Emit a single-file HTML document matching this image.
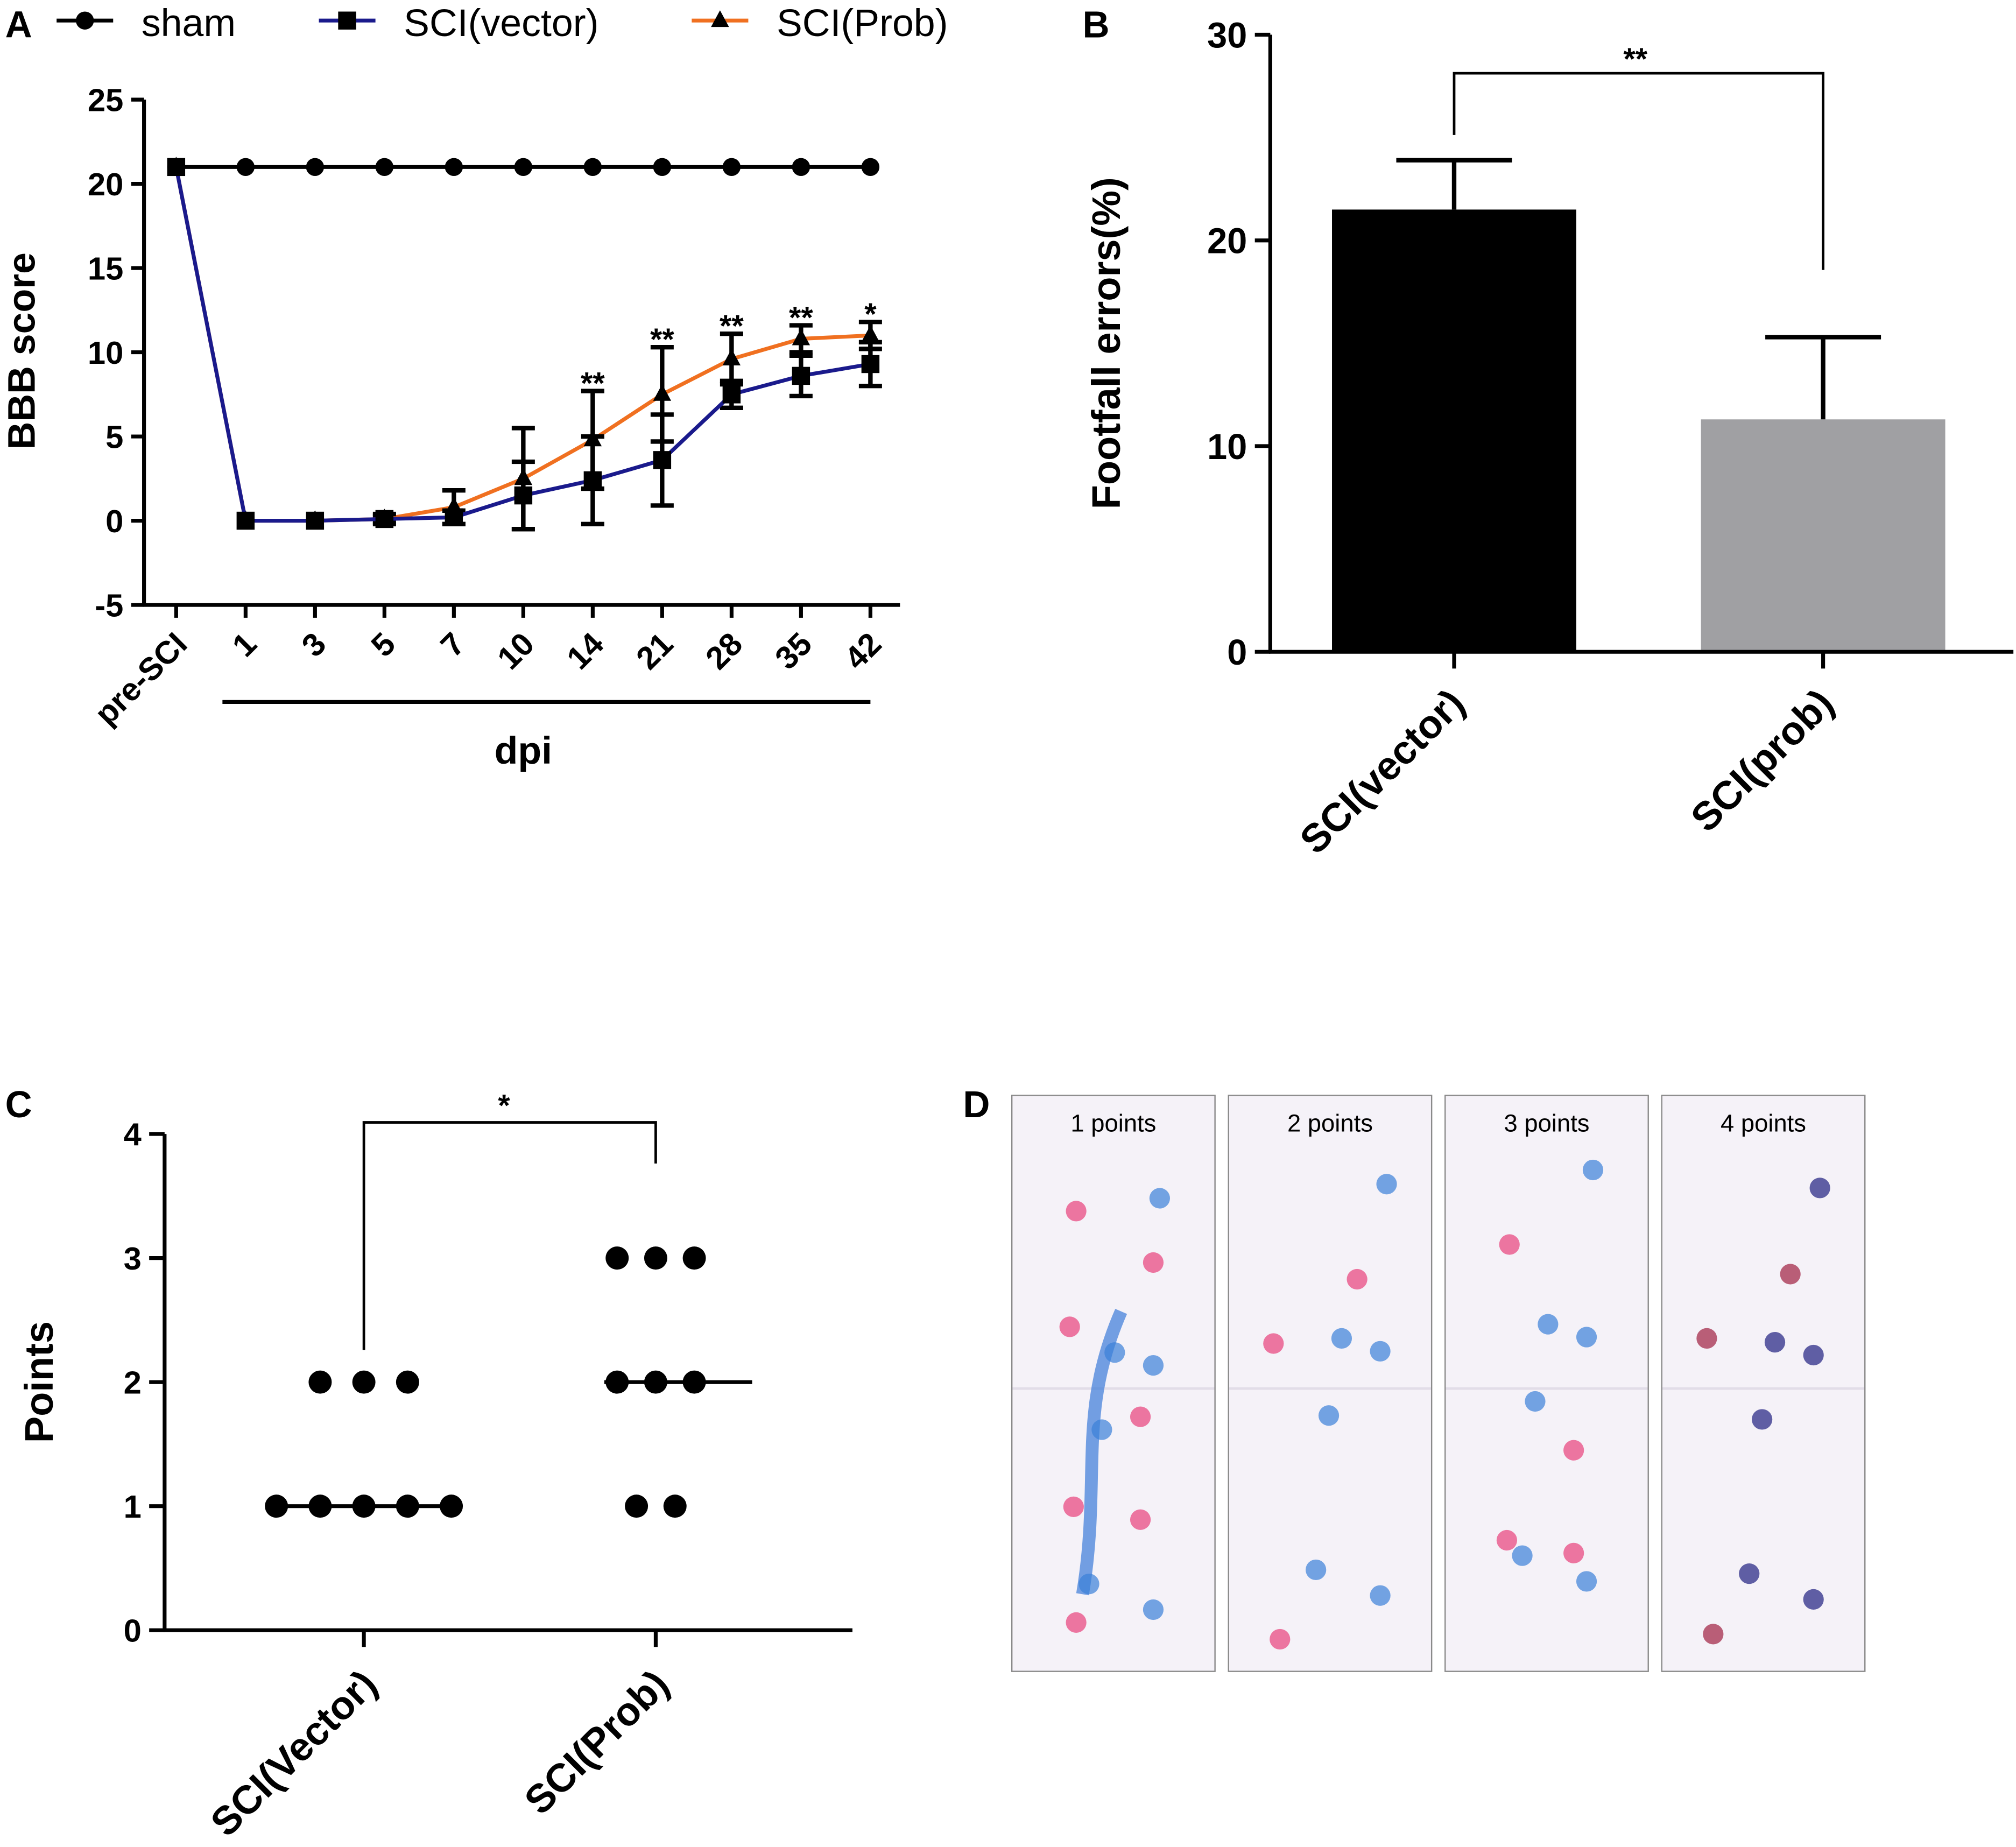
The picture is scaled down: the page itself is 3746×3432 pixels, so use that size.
<!DOCTYPE html>
<html><head><meta charset="utf-8"><style>
html,body{margin:0;padding:0;background:#fff}
svg{display:block;font-family:"Liberation Sans",Arial,sans-serif}
</style></head><body>
<svg id="fig" width="3746" height="3432" viewBox="0 0 1568 1436.6" xmlns="http://www.w3.org/2000/svg">
<g id="pa"></g>
<g id="pb"></g>
<g id="pc"></g>
<g id="pd"></g>
</svg>
<script>
// Panel A data
const aCats=["pre-SCI","1","3","5","7","10","14","21","28","35","42"];
const aSham=[21,21,21,21,21,21,21,21,21,21,21];
const aVec=[21,0,0,0.1,0.2,1.5,2.4,3.6,7.5,8.6,9.3];
const aVecErr=[0,0,0,0.3,0.4,2,2.6,2.7,0.8,1.2,1.3];
const aProb=[21,0,0,0.1,0.8,2.5,4.8,7.5,9.6,10.8,11];
const aProbErr=[0,0,0,0.2,1,3,2.9,2.8,1.5,0.8,0.8];
const aStars=["","","","","","","**","**","**","**","*"];
const aTicks=[-5,0,5,10,15,20,25];
// Panel B data
const bCats=["SCI(vector)","SCI(prob)"];
const bVals=[21.5,11.3];
const bErr=[2.4,4.0];
const bColors=["#000000","#a0a0a3"];
const bTicks=[0,10,20,30];
// Panel C data
const cCats=["SCI(Vector)","SCI(Prob)"];
const cVec=[[2,-1],[2,0],[2,1],[1,-2],[1,-1],[1,0],[1,1],[1,2]];
const cProb=[[3,-1],[3,0],[3,1],[2,-1],[2,0],[2,1],[1,-0.5],[1,0.5]];
const cMedian=[1,2];
const cTicks=[0,1,2,3,4];
// Panel D
const dLabels=["1 points","2 points","3 points","4 points"];

const NS="http://www.w3.org/2000/svg";
function mk(parent,tag,attrs,text){const e=document.createElementNS(NS,tag);for(const k in attrs)e.setAttribute(k,attrs[k]);if(text!==undefined)e.textContent=text;parent.appendChild(e);return e;}

// ---------- Panel A ----------
const pa=document.getElementById('pa');
const ax=i=>137+i*54, ay=v=>405-v*13.1;
let t=mk(pa,'text',{x:4,y:29,'font-size':29,'font-weight':'bold'},'A');

let l=mk(pa,'line',{x1:112,y1:ay(25),x2:112,y2:ay(-5)+1,stroke:'#000','stroke-width':3});

l=mk(pa,'line',{x1:111,y1:ay(-5),x2:700,y2:ay(-5),stroke:'#000','stroke-width':3});

aTicks.forEach(v=>{
  mk(pa,'line',{x1:102,y1:ay(v),x2:112,y2:ay(v),stroke:'#000','stroke-width':3});
  const tt=mk(pa,'text',{x:96,y:ay(v)+9,'font-size':25,'font-weight':'bold','text-anchor':'end'},String(v));
  
});
aCats.forEach((c,i)=>{
  mk(pa,'line',{x1:ax(i),y1:ay(-5),x2:ax(i),y2:ay(-5)+10,stroke:'#000','stroke-width':3});
  const tt=mk(pa,'text',{x:ax(i)+10,y:ay(-5)+32,'font-size':25,'font-weight':'bold','text-anchor':'end',transform:`rotate(-45 ${ax(i)+10} ${ay(-5)+32})`},c);
  
});
t=mk(pa,'text',{x:27,y:273,'font-size':30,'font-weight':'bold','text-anchor':'middle',transform:'rotate(-90 27 273)'},'BBB score');

l=mk(pa,'line',{x1:ax(1)-18,y1:546,x2:ax(10),y2:546,stroke:'#000','stroke-width':3});

t=mk(pa,'text',{x:407,y:594,'font-size':30,'font-weight':'bold','text-anchor':'middle'},'dpi');

function series(vals,err,color,marker,name){
  const g=mk(pa,'g',{});
  
  if(err) vals.forEach((v,i)=>{ if(err[i]>0){
    mk(g,'line',{x1:ax(i),y1:ay(v+err[i]),x2:ax(i),y2:ay(v-err[i]),stroke:'#000','stroke-width':3.5});
    mk(g,'line',{x1:ax(i)-9,y1:ay(v+err[i]),x2:ax(i)+9,y2:ay(v+err[i]),stroke:'#000','stroke-width':3.5});
    mk(g,'line',{x1:ax(i)-9,y1:ay(v-err[i]),x2:ax(i)+9,y2:ay(v-err[i]),stroke:'#000','stroke-width':3.5});}});
  mk(g,'polyline',{points:vals.map((v,i)=>ax(i)+','+ay(v)).join(' '),fill:'none',stroke:color,'stroke-width':3});
  vals.forEach((v,i)=>{
    let m;
    if(marker==='c') m=mk(g,'circle',{cx:ax(i),cy:ay(v),r:7,fill:'#000'});
    else if(marker==='s') m=mk(g,'rect',{x:ax(i)-7,y:ay(v)-7,width:14,height:14,fill:'#000'});
    else m=mk(g,'polygon',{points:`${ax(i)},${ay(v)-8} ${ax(i)-7},${ay(v)+5} ${ax(i)+7},${ay(v)+5}`,fill:'#000'});
    
  });
}
series(aSham,null,'#000','c','sham-series');
series(aProb,aProbErr,'#f07020','t','sci-prob-series');
series(aVec,aVecErr,'#1a1a8c','s','sci-vector-series');
aStars.forEach((s,i)=>{ if(s){
  const tp=Math.max(aVec[i]+aVecErr[i],aProb[i]+aProbErr[i]);
  const tt=mk(pa,'text',{x:ax(i),y:ay(tp)+2,'font-size':24,'font-weight':'bold','text-anchor':'middle'},s);
  }});
// legend
const leg=[["sham",'#000','c',44],["SCI(vector)",'#1a1a8c','s',248],["SCI(Prob)",'#f07020','t',538]];
leg.forEach(([n,c,m,x])=>{
  const g=mk(pa,'g',{});
  mk(g,'line',{x1:x,y1:16,x2:x+44,y2:16,stroke:c,'stroke-width':3});
  if(m==='c')mk(g,'circle',{cx:x+22,cy:16,r:7,fill:'#000'});
  else if(m==='s')mk(g,'rect',{x:x+15,y:9,width:14,height:14,fill:'#000'});
  else mk(g,'polygon',{points:`${x+22},8 ${x+15},21 ${x+29},21`,fill:'#000'});
  mk(g,'text',{x:x+66,y:28,'font-size':30},n);
});

// ---------- Panel B ----------
const pb=document.getElementById('pb');
const bx=i=>1131+i*287, by=v=>507-v*16;
t=mk(pb,'text',{x:842,y:29,'font-size':29,'font-weight':'bold'},'B');

bVals.forEach((v,i)=>{
  const r=mk(pb,'rect',{x:bx(i)-95,y:by(v),width:190,height:by(0)-by(v),fill:bColors[i]});
  
  const e=mk(pb,'path',{d:`M${bx(i)},${by(v)} V${by(v+bErr[i])} M${bx(i)-45},${by(v+bErr[i])} H${bx(i)+45}`,stroke:'#000','stroke-width':3.5,fill:'none'});
  
  mk(pb,'line',{x1:bx(i),y1:by(0),x2:bx(i),y2:by(0)+13,stroke:'#000','stroke-width':3});
  const tt=mk(pb,'text',{x:bx(i)+10,y:by(0)+42,'font-size':31,'font-weight':'bold','text-anchor':'end',transform:`rotate(-45 ${bx(i)+10} ${by(0)+42})`},bCats[i]);
  
});
l=mk(pb,'line',{x1:988,y1:by(30),x2:988,y2:by(0)+1,stroke:'#000','stroke-width':3});

l=mk(pb,'line',{x1:987,y1:by(0),x2:1566,y2:by(0),stroke:'#000','stroke-width':3});

bTicks.forEach(v=>{
  mk(pb,'line',{x1:976,y1:by(v),x2:988,y2:by(v),stroke:'#000','stroke-width':3});
  const tt=mk(pb,'text',{x:970,y:by(v)+10,'font-size':28,'font-weight':'bold','text-anchor':'end'},String(v));
  
});
t=mk(pb,'text',{x:871,y:267,'font-size':31,'font-weight':'bold','text-anchor':'middle',transform:'rotate(-90 871 267)'},'Footfall errors(%)');

l=mk(pb,'path',{d:`M${bx(0)},105 V57 H${bx(1)} V210`,stroke:'#000','stroke-width':2,fill:'none'});

t=mk(pb,'text',{x:1272,y:54,'font-size':24,'font-weight':'bold','text-anchor':'middle'},'**');


// ---------- Panel C ----------
const pc=document.getElementById('pc');
const cx=i=>283+i*227, cy=v=>1268-v*96.5;
t=mk(pc,'text',{x:4,y:869,'font-size':29,'font-weight':'bold'},'C');

l=mk(pc,'line',{x1:128,y1:cy(4),x2:128,y2:cy(0)+1,stroke:'#000','stroke-width':3});

l=mk(pc,'line',{x1:127,y1:cy(0),x2:663,y2:cy(0),stroke:'#000','stroke-width':3});

cTicks.forEach(v=>{
  mk(pc,'line',{x1:116,y1:cy(v),x2:128,y2:cy(v),stroke:'#000','stroke-width':3});
  const tt=mk(pc,'text',{x:110,y:cy(v)+9,'font-size':25,'font-weight':'bold','text-anchor':'end'},String(v));
  
});
t=mk(pc,'text',{x:41,y:1075,'font-size':31,'font-weight':'bold','text-anchor':'middle',transform:'rotate(-90 41 1075)'},'Points');

[cVec,cProb].forEach((pts,i)=>{
  mk(pc,'line',{x1:cx(i),y1:cy(0),x2:cx(i),y2:cy(0)+13,stroke:'#000','stroke-width':3});
  const tt=mk(pc,'text',{x:cx(i)+12,y:cy(0)+44,'font-size':31,'font-weight':'bold','text-anchor':'end',transform:`rotate(-45 ${cx(i)+12} ${cy(0)+44})`},cCats[i]);
  
  const m=mk(pc,'line',{x1:cx(i)-(i?40:76),y1:cy(cMedian[i]),x2:cx(i)+75,y2:cy(cMedian[i]),stroke:'#000','stroke-width':3});
  
  pts.forEach(([v,o])=>{
    const d=mk(pc,'circle',{cx:cx(i)+o*(i?30:34),cy:cy(v),r:9,fill:'#000'});
    
  });
});
l=mk(pc,'path',{d:`M${cx(0)},1050 V873 H${cx(1)} V905`,stroke:'#000','stroke-width':2,fill:'none'});

t=mk(pc,'text',{x:392,y:868,'font-size':24,'font-weight':'bold','text-anchor':'middle'},'*');


// ---------- Panel D ----------
const pd=document.getElementById('pd');
t=mk(pd,'text',{x:749,y:869,'font-size':29,'font-weight':'bold'},'D');

const pinks=[[50,90],[45,180],[48,320],[110,130],[100,250],[50,410],[100,330]];
const blues=[[115,80],[80,200],[70,260],[110,210],[110,400],[60,380]];
dLabels.forEach((lab,i)=>{
  const x0=787+i*168.5;
  const cp=mk(pd,'clipPath',{id:'clip'+i});
  mk(cp,'rect',{x:x0,y:852,width:158,height:448});
  const g=mk(pd,'g',{'clip-path':`url(#clip${i})`});
  mk(g,'rect',{x:x0,y:852,width:158,height:448,fill:'#f5f2f8'});
  mk(g,'line',{x1:x0,y1:1080,x2:x0+158,y2:1080,stroke:'#e2dde8','stroke-width':2});
  if(i===0){mk(g,'path',{d:`M${x0+85},1020 C${x0+50},1100 ${x0+70},1150 ${x0+55},1240`,stroke:'#3a7ad8','stroke-width':10,fill:'none',opacity:0.7});}
  pinks.forEach(([dx,dy],k)=>{ if((k+i)%2===0||i===0) mk(g,'circle',{cx:x0+dx-(i%2)*10,cy:852+dy+(i*13)%30,r:8,fill:i===3?'#a02040':'#e8407a',opacity:0.7});});
  blues.forEach(([dx,dy],k)=>{ mk(g,'circle',{cx:x0+dx+(i%2)*8,cy:852+dy-(i*11)%25,r:8,fill:i===3?'#202080':'#3a80d8',opacity:0.7});});
  mk(g,'text',{x:x0+79,y:880,'font-size':19,'text-anchor':'middle'},lab);
  mk(pd,'rect',{x:x0,y:852,width:158,height:448,fill:'none',stroke:'#8a8a8a','stroke-width':1});
});
</script>
</body></html>
